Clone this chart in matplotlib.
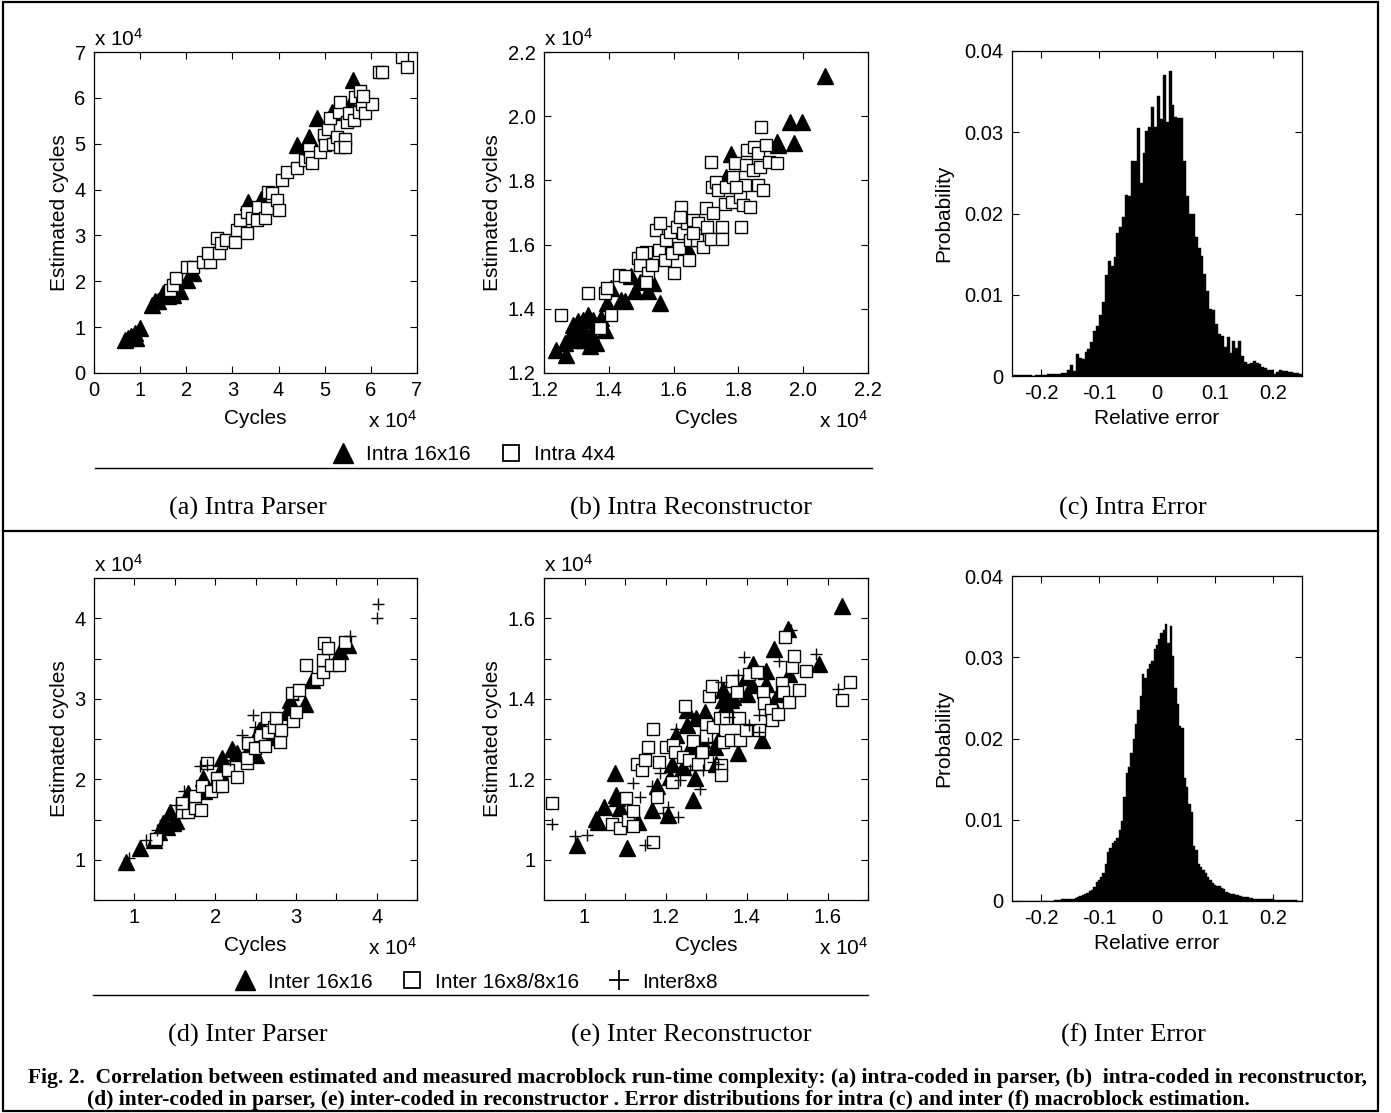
import matplotlib
matplotlib.use("Agg")
import matplotlib.pyplot as plt
import numpy as np
from matplotlib.lines import Line2D
from matplotlib.patches import Rectangle
from matplotlib.ticker import FixedLocator, FuncFormatter

plt.rcParams['font.family'] = ['Liberation Sans', 'DejaVu Sans']
plt.rcParams['mathtext.fontset'] = 'custom'
plt.rcParams['mathtext.rm'] = 'Liberation Sans'
plt.rcParams['mathtext.it'] = 'Liberation Sans'

W, H = 1391, 1113

# ---- (a) intra parser, values in units of 1e4 cycles
a_tri_x = [0.67, 0.74, 0.81, 0.88, 0.99, 0.92, 1.25, 1.32, 1.39, 1.50, 1.61, 1.72, 1.86, 2.01, 2.15,
           3.34, 3.63, 4.40, 4.65, 4.83, 5.16, 5.55, 5.61, 4.76]
a_tri_y = [0.73, 0.76, 0.80, 0.87, 0.98, 0.76, 1.49, 1.56, 1.56, 1.74, 1.67, 1.70, 1.78, 2.03, 2.18,
           3.73, 3.79, 4.97, 5.15, 5.55, 5.69, 5.87, 6.38, 4.89]
a_sq_x = [1.64, 1.72, 1.77, 2.01, 2.14, 2.37, 2.51, 2.47, 2.66, 2.70, 2.76, 2.87, 3.05, 3.09, 3.16,
          3.31, 3.31, 3.42, 3.53, 3.56, 3.71, 3.74, 3.78, 3.85, 3.96, 4.00, 4.07, 4.18, 4.40, 4.58,
          4.65, 4.69, 4.72, 4.90, 4.98, 5.01, 5.08, 5.12, 5.19, 5.26, 5.30, 5.34, 5.34, 5.45, 5.45,
          5.48, 5.52, 5.63, 5.66, 5.74, 5.77, 5.81, 5.88, 6.02, 5.84, 6.17, 6.24, 6.68, 6.78]
a_sq_y = [1.81, 1.92, 2.07, 2.32, 2.32, 2.43, 2.43, 2.61, 2.94, 2.61, 2.83, 2.90, 2.86, 3.12, 3.34,
          3.05, 3.52, 3.37, 3.34, 3.63, 3.37, 3.59, 3.95, 3.92, 3.77, 3.55, 4.21, 4.39, 4.46, 4.64,
          4.89, 4.71, 4.57, 4.82, 5.18, 4.97, 5.33, 5.55, 5.00, 5.15, 5.69, 5.91, 4.93, 5.11, 4.93,
          5.48, 5.66, 5.51, 6.02, 5.69, 6.16, 5.87, 5.66, 5.87, 6.05, 6.56, 6.56, 6.89, 6.67]

# ---- (b) intra reconstructor
b_tri_x = [1.236, 1.267, 1.264, 1.279, 1.295, 1.305, 1.310, 1.320, 1.326, 1.336, 1.341, 1.346, 1.351,
           1.362, 1.367, 1.377, 1.387, 1.393, 1.408, 1.439, 1.449, 1.470, 1.480, 1.496, 1.521, 1.537,
           1.557, 1.640, 1.763, 1.776, 1.918, 1.923, 1.959, 1.971, 1.995, 2.067, 1.290, 1.320]
b_tri_y = [1.273, 1.257, 1.293, 1.314, 1.304, 1.361, 1.335, 1.366, 1.324, 1.381, 1.283, 1.324, 1.366,
           1.293, 1.350, 1.371, 1.335, 1.418, 1.464, 1.428, 1.423, 1.501, 1.454, 1.485, 1.454, 1.480,
           1.418, 1.594, 1.811, 1.882, 1.920, 1.910, 1.982, 1.915, 1.982, 2.124, 1.350, 1.304]
b_sq_x = [1.251, 1.336, 1.374, 1.389, 1.394, 1.408, 1.432, 1.449, 1.490, 1.496, 1.516, 1.521, 1.534,
          1.516, 1.547, 1.555, 1.573, 1.578, 1.588, 1.596, 1.601, 1.609, 1.617, 1.622, 1.629, 1.640,
          1.648, 1.650, 1.660, 1.673, 1.676, 1.691, 1.699, 1.704, 1.714, 1.717, 1.714, 1.732, 1.738,
          1.748, 1.748, 1.758, 1.761, 1.779, 1.784, 1.790, 1.805, 1.807, 1.815, 1.820, 1.823, 1.827,
          1.837, 1.846, 1.848, 1.859, 1.861, 1.868, 1.871, 1.875, 1.885, 1.895, 1.920, 1.501, 1.557,
          1.619, 1.660, 1.722, 1.794]
b_sq_y = [1.381, 1.449, 1.340, 1.449, 1.464, 1.381, 1.504, 1.501, 1.558, 1.537, 1.578, 1.511, 1.537,
          1.485, 1.646, 1.583, 1.552, 1.615, 1.640, 1.573, 1.513, 1.656, 1.589, 1.716, 1.635, 1.666,
          1.552, 1.615, 1.676, 1.615, 1.666, 1.594, 1.713, 1.656, 1.858, 1.780, 1.617, 1.796, 1.770,
          1.656, 1.617, 1.728, 1.780, 1.734, 1.811, 1.853, 1.749, 1.654, 1.723, 1.785, 1.848, 1.894,
          1.718, 1.832, 1.905, 1.785, 1.884, 1.843, 1.967, 1.770, 1.910, 1.858, 1.853, 1.573, 1.666,
          1.687, 1.635, 1.697, 1.780]

# ---- (c) intra error histogram, probability per bin (bin width 0.005 from -0.25)
c_prob = [0.0001, 0.0001, 0.0001, 0.0001, 0.0001, 0.0001, 0.0001, 0.0000, 0.0001, 0.0001,
          0.0001, 0.0001, 0.0002, 0.0002, 0.0003, 0.0002, 0.0003, 0.0004, 0.0004, 0.0007,
          0.0013, 0.0006, 0.0027, 0.0022, 0.0021, 0.0030, 0.0033, 0.0042, 0.0055, 0.0062,
          0.0075, 0.0091, 0.0124, 0.0141, 0.0136, 0.0146, 0.0176, 0.0183, 0.0196, 0.0223,
          0.0222, 0.0265, 0.0265, 0.0305, 0.0238, 0.0274, 0.0302, 0.0306, 0.0331, 0.0306,
          0.0345, 0.0316, 0.0371, 0.0313, 0.0375, 0.0333, 0.0319, 0.0318, 0.0317, 0.0265,
          0.0222, 0.0200, 0.0200, 0.0171, 0.0157, 0.0148, 0.0126, 0.0105, 0.0083, 0.0081,
          0.0064, 0.0052, 0.0049, 0.0036, 0.0048, 0.0028, 0.0043, 0.0034, 0.0043, 0.0025,
          0.0017, 0.0015, 0.0016, 0.0019, 0.0016, 0.0015, 0.0011, 0.0010, 0.0008, 0.0007,
          0.0003, 0.0005, 0.0007, 0.0006, 0.0006, 0.0005, 0.0005, 0.0004, 0.0004, 0.0003]

# ---- (d) inter parser
d_tri_x = [0.90, 1.07, 1.24, 1.31, 1.36, 1.40, 1.44, 1.48, 1.52, 1.61, 1.66, 1.85, 1.86, 2.06, 2.08,
           2.21, 2.27, 2.39, 2.51, 2.54, 2.70, 2.89, 2.93, 3.11, 3.20, 3.55, 3.65, 2.47, 2.58]
d_tri_y = [0.97, 1.14, 1.25, 1.35, 1.46, 1.41, 1.59, 1.46, 1.48, 1.66, 1.83, 2.01, 1.85, 2.10, 2.26,
           2.37, 2.32, 2.34, 2.30, 2.61, 2.53, 2.84, 2.99, 2.94, 3.23, 3.59, 3.67, 2.45, 2.65]
d_sq_x = [1.27, 1.59, 1.67, 1.75, 1.75, 1.83, 1.84, 1.95, 2.02, 2.04, 2.08, 2.16, 2.27, 2.39, 2.41,
          2.40, 2.49, 2.56, 2.62, 2.64, 2.66, 2.73, 2.76, 2.80, 2.82, 2.95, 2.96, 3.00, 3.04, 3.13,
          3.26, 3.33, 3.33, 3.35, 3.40, 3.43, 3.53, 3.61, 1.59, 1.90]
d_sq_y = [1.26, 1.59, 1.59, 1.64, 1.79, 1.62, 1.92, 1.85, 2.01, 1.91, 1.92, 2.12, 2.03, 2.20, 2.45,
          2.26, 2.39, 2.55, 2.41, 2.76, 2.59, 2.65, 2.76, 2.46, 2.61, 3.07, 2.72, 2.84, 3.11, 3.42,
          3.24, 3.33, 3.48, 3.69, 3.63, 3.42, 3.42, 3.71, 1.70, 2.20]
d_plus_x = [0.93, 1.15, 1.28, 1.38, 1.52, 1.61, 1.90, 2.18, 2.33, 2.47, 2.49, 3.67, 4.00, 4.02, 2.97, 1.81]
d_plus_y = [1.02, 1.25, 1.37, 1.50, 1.68, 1.85, 2.18, 2.24, 2.55, 2.80, 2.65, 3.78, 4.00, 4.18, 2.99, 2.16]

# ---- (e) inter reconstructor
e_tri_x = [0.981, 1.029, 1.034, 1.047, 1.075, 1.078, 1.080, 1.088, 1.104, 1.133, 1.166, 1.178, 1.207,
           1.211, 1.216, 1.225, 1.242, 1.252, 1.252, 1.260, 1.268, 1.272, 1.276, 1.289, 1.297, 1.321,
           1.325, 1.330, 1.342, 1.343, 1.350, 1.362, 1.366, 1.379, 1.401, 1.414, 1.416, 1.439, 1.447,
           1.465, 1.469, 1.477, 1.502, 1.506, 1.578, 1.637, 1.448, 1.399]
e_tri_y = [1.037, 1.101, 1.095, 1.132, 1.215, 1.161, 1.153, 1.128, 1.029, 1.095, 1.124, 1.182, 1.111,
           1.206, 1.239, 1.309, 1.231, 1.371, 1.334, 1.281, 1.149, 1.202, 1.351, 1.297, 1.367, 1.281,
           1.239, 1.297, 1.421, 1.396, 1.384, 1.396, 1.404, 1.264, 1.413, 1.433, 1.487, 1.297, 1.470,
           1.388, 1.524, 1.413, 1.573, 1.462, 1.487, 1.631, 1.437, 1.454]
e_sq_x = [0.920, 1.067, 1.088, 1.102, 1.108, 1.120, 1.120, 1.129, 1.141, 1.149, 1.157, 1.170, 1.170,
          1.178, 1.184, 1.202, 1.217, 1.219, 1.223, 1.242, 1.248, 1.258, 1.268, 1.280, 1.291, 1.301,
          1.301, 1.307, 1.316, 1.317, 1.334, 1.338, 1.338, 1.343, 1.350, 1.365, 1.362, 1.376, 1.381,
          1.385, 1.398, 1.407, 1.425, 1.440, 1.442, 1.461, 1.464, 1.477, 1.488, 1.491, 1.496, 1.506,
          1.512, 1.518, 1.530, 1.548, 1.637, 1.655, 1.432]
e_sq_y = [1.142, 1.088, 1.078, 1.153, 1.099, 1.120, 1.083, 1.239, 1.223, 1.248, 1.281, 1.326, 1.045,
          1.157, 1.243, 1.281, 1.194, 1.285, 1.268, 1.256, 1.381, 1.248, 1.295, 1.239, 1.268, 1.338,
          1.308, 1.408, 1.431, 1.330, 1.353, 1.235, 1.210, 1.293, 1.353, 1.444, 1.297, 1.417, 1.353,
          1.297, 1.323, 1.462, 1.466, 1.417, 1.389, 1.373, 1.348, 1.363, 1.439, 1.417, 1.553, 1.392,
          1.479, 1.507, 1.421, 1.470, 1.396, 1.441, 1.322]
e_plus_x = [0.920, 0.977, 1.006, 1.120, 1.137, 1.149, 1.166, 1.186, 1.194, 1.207, 1.231, 1.235, 1.227,
            1.284, 1.293, 1.305, 1.317, 1.330, 1.338, 1.379, 1.395, 1.407, 1.432, 1.432, 1.481, 1.510,
            1.571, 1.625, 1.260, 1.358]
e_plus_y = [1.089, 1.059, 1.062, 1.190, 1.157, 1.037, 1.182, 1.215, 1.116, 1.132, 1.107, 1.198, 1.326,
            1.177, 1.223, 1.289, 1.243, 1.239, 1.441, 1.458, 1.503, 1.334, 1.359, 1.318, 1.495, 1.571,
            1.512, 1.425, 1.223, 1.355]

# ---- (f) inter error histogram, probability per bin (bin width 0.004 from -0.25)
f_prob = [0.0, 0.0, 0.0, 0.0, 0.0, 0.0, 0.0, 0.0, 0.0, 0.0,
          0.0, 0.0, 0.0, 0.0, 0.0, 0.0, 0.00005, 0.00005, 0.0001, 0.0001,
          0.0001, 0.0002, 0.0002, 0.0002, 0.0003, 0.0003, 0.0003, 0.0004, 0.0005, 0.0006,
          0.0008, 0.0009, 0.0010, 0.0012, 0.0014, 0.0017, 0.0023, 0.0026, 0.0030, 0.0034,
          0.0045, 0.0060, 0.0065, 0.0072, 0.0074, 0.0077, 0.0088, 0.0098, 0.0128, 0.0157,
          0.0165, 0.0182, 0.0200, 0.0218, 0.0235, 0.0252, 0.0280, 0.0274, 0.0286, 0.0292,
          0.0295, 0.0310, 0.0315, 0.0322, 0.0330, 0.0334, 0.0341, 0.0318, 0.0338, 0.0301,
          0.0262, 0.0243, 0.0215, 0.0213, 0.0151, 0.0140, 0.0120, 0.0109, 0.0068, 0.0063,
          0.0046, 0.0042, 0.0038, 0.0035, 0.0030, 0.0026, 0.0022, 0.0020, 0.0018, 0.0018,
          0.0016, 0.0015, 0.0011, 0.0010, 0.0009, 0.0009, 0.0008, 0.0007, 0.0006, 0.0005,
          0.0005, 0.0005, 0.0004, 0.0004, 0.0003, 0.0003, 0.0002, 0.0002, 0.0002, 0.0002,
          0.0002, 0.0002, 0.0002, 0.0001, 0.0001, 0.0001, 0.0001, 0.0001, 0.0001, 0.0001,
          0.0001, 0.0001, 0.0001, 0.0000, 0.0000]

intra_labels = ['Intra 16x16', 'Intra 4x4']
inter_labels = ['Inter 16x16', 'Inter 16x8/8x16', 'Inter8x8']
sub_titles = ['(a) Intra Parser', '(b) Intra Reconstructor', '(c) Intra Error',
              '(d) Inter Parser', '(e) Inter Reconstructor', '(f) Inter Error']
caption_1 = ('Fig. 2.  Correlation between estimated and measured macroblock run-time complexity: '
             '(a) intra-coded in parser, (b)  intra-coded in reconstructor,')
caption_2 = ('(d) inter-coded in parser, (e) inter-coded in reconstructor . Error distributions '
             'for intra (c) and inter (f) macroblock estimation.')

TICK_FS = 14.5
LABEL_FS = 15
TRI = dict(marker='^', ls='none', color='k', ms=11)
SQ = dict(marker='s', ls='none', mfc='white', mec='k', mew=1.0, ms=8)
PLUS = dict(marker='+', ls='none', color='k', mew=1.0, ms=9)


def px_axes(fig, x0, y0, x1, y1):
    return fig.add_axes([x0 / W, 1 - y1 / H, (x1 - x0) / W, (y1 - y0) / H])


def fmt_num(v, pos=None):
    if abs(v - round(v)) < 1e-9:
        return '%d' % round(v)
    return '%g' % v


def style_axes(ax, xlim, ylim, xticks, yticks, xlabels_at=None, ylabels_at=None, fmt=fmt_num):
    ax.set_xlim(*xlim)
    ax.set_ylim(*ylim)
    ax.xaxis.set_major_locator(FixedLocator(xticks))
    ax.yaxis.set_major_locator(FixedLocator(yticks))

    def make_fmt(shown):
        def f(v, pos=None):
            if shown is not None and not any(abs(v - s) < 1e-9 for s in shown):
                return ''
            return fmt(v)
        return FuncFormatter(f)
    ax.xaxis.set_major_formatter(make_fmt(xlabels_at))
    ax.yaxis.set_major_formatter(make_fmt(ylabels_at))
    ax.tick_params(direction='in', length=5, width=0.8, top=True, right=True,
                   labelsize=TICK_FS, pad=6)
    for s in ax.spines.values():
        s.set_linewidth(0.9)


def scatter_panel(ax, series, xlim, ylim, xticks, yticks, xl=None, yl=None, fmt=fmt_num):
    for xs, ys, st in series:
        ax.plot(xs, ys, **st)
    style_axes(ax, xlim, ylim, xticks, yticks, xl, yl, fmt)
    ax.set_xlabel('Cycles', fontsize=LABEL_FS, labelpad=6)
    ax.set_ylabel('Estimated cycles', fontsize=LABEL_FS)
    ax.text(0.0, 1.008, r'x 10$^{4}$', transform=ax.transAxes, fontsize=TICK_FS + 0.5,
            ha='left', va='bottom')
    ax.text(1.0, -0.115, r'x 10$^{4}$', transform=ax.transAxes, fontsize=TICK_FS + 0.5,
            ha='right', va='top')


def hist_panel(ax, probs, width):
    edges = -0.25 + width * np.arange(len(probs))
    ax.bar(edges, probs, width=width, align='edge', color='k', edgecolor='k', linewidth=0.3)
    style_axes(ax, (-0.25, 0.25), (0, 0.04), [-0.2, -0.1, 0, 0.1, 0.2],
               [0, 0.01, 0.02, 0.03, 0.04], fmt=lambda v: '%g' % round(v, 3))
    ax.set_xlabel('Relative error', fontsize=LABEL_FS, labelpad=4)
    ax.set_ylabel('Probability', fontsize=LABEL_FS, labelpad=8)


fig = plt.figure(figsize=(W / 100, H / 100), dpi=100)

# (a)
ax = px_axes(fig, 94, 52, 417, 373)
scatter_panel(ax, [(a_tri_x, a_tri_y, TRI), (a_sq_x, a_sq_y, SQ)], (0, 7), (0, 7),
              range(8), range(8))
# (b)
ax = px_axes(fig, 544, 52, 868, 373)
bt = [1.2, 1.4, 1.6, 1.8, 2.0, 2.2]
scatter_panel(ax, [(b_tri_x, b_tri_y, TRI), (b_sq_x, b_sq_y, SQ)], (1.2, 2.2), (1.2, 2.2),
              bt, bt, fmt=lambda v: '%.1f' % v)
# (c)
ax = px_axes(fig, 1012, 51, 1302, 376)
hist_panel(ax, c_prob, 0.005)
# (d)
ax = px_axes(fig, 94, 578, 417, 900)
dt = np.arange(0.5, 4.51, 0.5)
scatter_panel(ax, [(d_tri_x, d_tri_y, TRI), (d_sq_x, d_sq_y, SQ), (d_plus_x, d_plus_y, PLUS)],
              (0.5, 4.5), (0.5, 4.5), dt, dt, [1, 2, 3, 4], [1, 2, 3, 4])
# (e)
ax = px_axes(fig, 544, 578, 868, 900)
et = np.arange(0.9, 1.71, 0.1)
scatter_panel(ax, [(e_tri_x, e_tri_y, TRI), (e_sq_x, e_sq_y, SQ), (e_plus_x, e_plus_y, PLUS)],
              (0.9, 1.7), (0.9, 1.7), et, et, [1, 1.2, 1.4, 1.6], [1, 1.2, 1.4, 1.6])
# (f)
ax = px_axes(fig, 1012, 576, 1302, 901)
hist_panel(ax, f_prob, 0.004)

# legends with the rule underneath (legend markers drawn larger, as in the original)
h_tri = Line2D([], [], marker='^', ls='none', color='k', ms=15)
h_sq = Line2D([], [], marker='s', ls='none', mfc='white', mec='k', mew=1.3, ms=11)
h_plus = Line2D([], [], marker='+', ls='none', color='k', mew=1.3, ms=14)
fig.legend([h_tri, h_sq], intra_labels, loc='center', bbox_to_anchor=(474 / W, 1 - 455 / H),
           ncol=2, frameon=False, fontsize=LABEL_FS, handlelength=1.0, handletextpad=0.6,
           columnspacing=1.4, borderpad=0)
fig.legend([h_tri, h_sq, h_plus], inter_labels, loc='center', bbox_to_anchor=(476 / W, 1 - 982 / H),
           ncol=3, frameon=False, fontsize=LABEL_FS, handlelength=1.0, handletextpad=0.6,
           columnspacing=1.4, borderpad=0)
fig.add_artist(Line2D([95 / W, 872 / W], [1 - 468 / H] * 2, color='k', lw=1.0))
fig.add_artist(Line2D([93 / W, 868 / W], [1 - 995 / H] * 2, color='k', lw=1.0))

# sub-captions
for i, (t, x) in enumerate(zip(sub_titles, [248, 691, 1133] * 2)):
    y = 508 if i < 3 else 1035
    fig.text(x / W, 1 - y / H, t, ha='center', va='center', fontsize=19,
             family=['Liberation Serif', 'DejaVu Serif'])

fig.text(697 / W, 1 - 1078 / H, caption_1, ha='center', va='center', fontsize=15.5,
         fontweight='bold', family=['Liberation Serif', 'DejaVu Serif'])
fig.text(668 / W, 1 - 1100 / H, caption_2, ha='center', va='center', fontsize=15.5,
         fontweight='bold', family=['Liberation Serif', 'DejaVu Serif'])

# frame around the figure
fig.add_artist(Rectangle((3 / W, 1 - 1111 / H), 1375 / W, 1109 / H, fill=False,
                         ec='k', lw=1.6, transform=fig.transFigure))
fig.add_artist(Line2D([3 / W, 1378 / W], [1 - 531 / H] * 2, color='k', lw=1.6))

fig.savefig('out.png', dpi=100)
